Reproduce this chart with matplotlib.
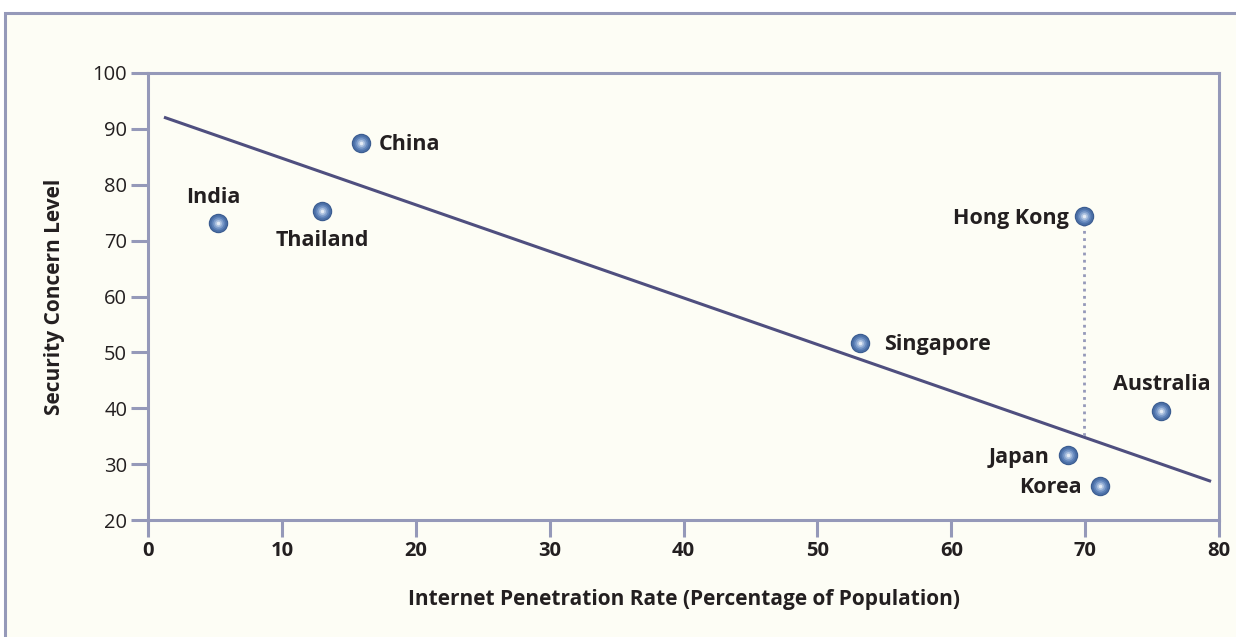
import numpy as np
import matplotlib.pyplot as plt
from matplotlib.patches import Rectangle

FRAME = '#9599b9'
CREAM = '#fdfdf5'
LINE = '#4f4f7f'
TEXT = '#231f20'

countries = ['India', 'Thailand', 'China', 'Singapore',
             'Hong Kong', 'Australia', 'Japan', 'Korea']
penetration = [5.2, 13.0, 15.9, 53.2, 69.9, 75.7, 68.7, 71.1]
concern = [73.2, 75.3, 87.5, 51.7, 74.4, 39.5, 31.6, 26.1]

# trend line end points
trend_x = [1.3, 79.3]
trend_y = [92.0, 27.0]

xticks = [0, 10, 20, 30, 40, 50, 60, 70, 80]
yticks = [20, 30, 40, 50, 60, 70, 80, 90, 100]

# label placement: (dx, dy) in points, ha
label_pos = {
    'India': ((-3, 18), 'center'),
    'Thailand': ((0, -21), 'center'),
    'China': ((13, -1.5), 'left'),
    'Singapore': ((17, -1.5), 'left'),
    'Hong Kong': ((-11, -1.5), 'right'),
    'Australia': ((0, 19), 'center'),
    'Japan': ((-13, -1.5), 'right'),
    'Korea': ((-13, -1.5), 'right'),
}

plt.rcParams['font.family'] = ['Open Sans', 'DejaVu Sans']

fig = plt.figure(figsize=(12.36, 6.37), dpi=100, facecolor='white')
fig.patches.append(Rectangle((5 / 1236, -0.05), 1.2, 1 - 13 / 637 + 0.05,
                             transform=fig.transFigure, facecolor=CREAM,
                             edgecolor=FRAME, linewidth=2.2, zorder=-10))

ax = fig.add_axes((148 / 1236, 117 / 637, 1071 / 1236, 447 / 637))
ax.set_facecolor(CREAM)
ax.set_xlim(0, 80)
ax.set_ylim(20, 100)
ax.set_xticks(xticks)
ax.set_yticks(yticks)
for s in ax.spines.values():
    s.set_color(FRAME)
    s.set_linewidth(2.2)
ax.tick_params(direction='out', length=12, width=2.2, color=FRAME,
               labelsize=14.5, labelcolor=TEXT, pad=3)
for t in ax.get_xticklabels():
    t.set_fontweight('bold')

ax.plot(trend_x, trend_y, color=LINE, linewidth=2.2, zorder=2)

hk = countries.index('Hong Kong')
ax.plot([penetration[hk], penetration[hk]],
        [concern[hk], np.interp(penetration[hk], trend_x, trend_y)],
        color=FRAME, linestyle=(0, (1, 1.6)), linewidth=2, zorder=2)

# shaded sphere markers
shades = [(14, '#3a5b8f'), (12.5, '#4a6ea5'), (10, '#5f83b9'),
          (7.5, '#82a0cc'), (5, '#adc2e0'), (2.6, '#e4ebf5')]
for size, col in shades:
    ax.scatter(penetration, concern, s=size ** 2, color=col,
               linewidths=0, zorder=3)

for name, x, y in zip(countries, penetration, concern):
    off, ha = label_pos[name]
    ax.annotate(name, (x, y), xytext=off, textcoords='offset points',
                ha=ha, va='center', fontsize=15.5, fontweight='bold',
                color=TEXT)

ax.set_xlabel('Internet Penetration Rate (Percentage of Population)',
              fontsize=15, fontweight='bold', color=TEXT, labelpad=20)
ax.set_ylabel('Security Concern Level', fontsize=15, fontweight='bold',
              color=TEXT, labelpad=20)

fig.savefig('out.png', dpi=100, facecolor=fig.get_facecolor())
